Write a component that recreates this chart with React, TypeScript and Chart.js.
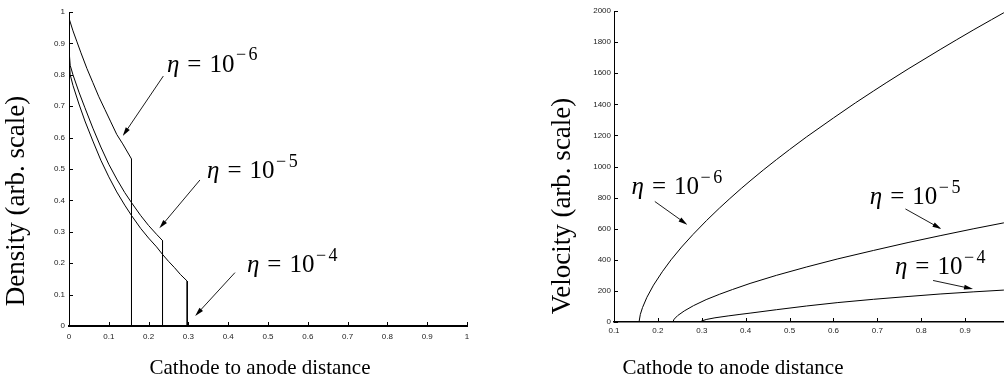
import { useEffect, useRef } from 'react';
import { Chart, registerables } from 'chart.js';

Chart.register(...registerables);

const SERIF = '"Liberation Serif", "Times New Roman", serif';
const SANS = '"Liberation Sans", Arial, sans-serif';

// ---------------- Density (left panel) ----------------
const densityXTickLabels = ['0', '0.1', '0.2', '0.3', '0.4', '0.5', '0.6', '0.7', '0.8', '0.9', '1'];
const densityYTickLabels = ['0', '0.1', '0.2', '0.3', '0.4', '0.5', '0.6', '0.7', '0.8', '0.9', '1'];

const densityEta6X = [0, 0.01, 0.02, 0.03, 0.045, 0.06, 0.075, 0.09, 0.105, 0.12, 0.135, 0.157, 0.157, 1];
const densityEta6Y = [0.98, 0.94, 0.905, 0.87, 0.82, 0.775, 0.73, 0.69, 0.65, 0.61, 0.58, 0.532, 0, 0];

const densityEta5X = [0, 0.003, 0.01, 0.025, 0.04, 0.06, 0.08, 0.1, 0.12, 0.14, 0.157, 0.18, 0.2, 0.22, 0.235, 0.235, 1];
const densityEta5Y = [0.88, 0.83, 0.8, 0.745, 0.695, 0.63, 0.57, 0.515, 0.468, 0.425, 0.393, 0.352, 0.32, 0.292, 0.272, 0, 0];

const densityEta4X = [0, 0.003, 0.01, 0.025, 0.04, 0.06, 0.08, 0.1, 0.12, 0.14, 0.157, 0.18, 0.2, 0.22, 0.235, 0.25, 0.265, 0.28, 0.297, 0.297, 1];
const densityEta4Y = [0.86, 0.8, 0.766, 0.707, 0.653, 0.589, 0.528, 0.475, 0.427, 0.385, 0.352, 0.311, 0.28, 0.252, 0.228, 0.206, 0.186, 0.164, 0.143, 0, 0];

// ---------------- Velocity (right panel) ----------------
const velocityXTickLabels = ['0.1', '0.2', '0.3', '0.4', '0.5', '0.6', '0.7', '0.8', '0.9', '1'];
const velocityYTickLabels = ['0', '200', '400', '600', '800', '1000', '1200', '1400', '1600', '1800', '2000'];

const velocityEta6X = [0.157, 0.16, 0.165, 0.175, 0.19, 0.21, 0.23, 0.254, 0.28, 0.311, 0.34, 0.364, 0.39, 0.41, 0.44, 0.47, 0.5, 0.539, 0.6, 0.65, 0.691, 0.72, 0.77, 0.843, 0.88, 0.92, 0.96, 0.987, 1.0];
const velocityEta6Y = [0, 49, 93, 159, 237, 323, 400, 482, 563, 653, 732, 794, 859, 907, 977, 1044, 1109, 1191, 1312, 1409, 1485, 1538, 1627, 1752, 1814, 1880, 1944, 1987, 2007];

const velocityEta5X = [0.234, 0.237, 0.245, 0.26, 0.281, 0.31, 0.341, 0.37, 0.41, 0.47, 0.539, 0.61, 0.691, 0.77, 0.843, 0.92, 0.987, 1.0];
const velocityEta5Y = [0, 18, 41, 71, 105, 144, 179, 209, 248, 300, 354, 406, 460, 511, 555, 600, 637, 644];

const velocityEta4X = [0.297, 0.3, 0.31, 0.33, 0.36, 0.387, 0.41, 0.47, 0.539, 0.61, 0.691, 0.77, 0.843, 0.92, 0.987, 1.0];
const velocityEta4Y = [0, 7, 16, 27, 39, 49, 57, 79, 103, 125, 146, 164, 180, 194, 205, 207];

// ---------------- annotations (data coordinates) ----------------
type Note = { exp: string; at: [number, number]; from: [number, number]; tip: [number, number] };
type Title = { text: string; x: number; y: number; rotate: boolean; size: number };

const densityNotes: Note[] = [
  { exp: '6', at: [0.246, 0.836], from: [0.237, 0.796], tip: [0.135, 0.605] },
  { exp: '5', at: [0.347, 0.497], from: [0.329, 0.465], tip: [0.227, 0.311] },
  { exp: '4', at: [0.447, 0.199], from: [0.417, 0.17], tip: [0.317, 0.032] },
];
const velocityNotes: Note[] = [
  { exp: '6', at: [0.14, 873], from: [0.193, 775], tip: [0.267, 626] },
  { exp: '5', at: [0.683, 809], from: [0.764, 727], tip: [0.846, 598] },
  { exp: '4', at: [0.74, 359], from: [0.827, 267], tip: [0.918, 212] },
];

const densityTitles: Title[] = [
  { text: 'Density (arb. scale)', x: 17, y: 201, rotate: true, size: 27 },
  { text: 'Cathode to anode distance', x: 260, y: 368, rotate: false, size: 21 },
];
const velocityTitles: Title[] = [
  { text: 'Velocity (arb. scale)', x: 63, y: 206, rotate: true, size: 27 },
  { text: 'Cathode to anode distance', x: 233, y: 368, rotate: false, size: 21 },
];

function zip(xs: number[], ys: number[]) {
  return xs.map((x, i) => ({ x, y: ys[i] }));
}

function drawEta(ctx: CanvasRenderingContext2D, x: number, yc: number, exp: string, s: number) {
  const base = yc + s * 0.33;
  ctx.fillStyle = '#000';
  ctx.textAlign = 'left';
  ctx.textBaseline = 'alphabetic';
  ctx.font = `italic ${s}px ${SERIF}`;
  ctx.fillText('η', x, base);
  let cx = x + ctx.measureText('η').width + s * 0.32;
  ctx.font = `${s}px ${SERIF}`;
  ctx.fillText('=', cx, base);
  cx += ctx.measureText('=').width + s * 0.32;
  ctx.fillText('10', cx, base);
  cx += ctx.measureText('10').width + s * 0.06;
  const ss = s * 0.72;
  ctx.font = `${ss}px ${SERIF}`;
  ctx.fillText('−', cx, base - s * 0.45);
  cx += ctx.measureText('−').width + s * 0.1;
  ctx.fillText(exp, cx, base - s * 0.45);
}

function decorPlugin(notes: Note[], titles: Title[]) {
  return {
    id: 'decor',
    afterDraw(chart: any) {
      const { ctx, chartArea: a, scales } = chart;
      const xs = scales.x;
      const ys = scales.y;
      ctx.save();
      // inward tick marks
      ctx.strokeStyle = '#000';
      ctx.lineWidth = 1;
      ctx.beginPath();
      for (const t of xs.ticks) {
        const p = Math.round(xs.getPixelForValue(t.value)) + 0.5;
        ctx.moveTo(p, a.bottom);
        ctx.lineTo(p, a.bottom - 4);
      }
      for (const t of ys.ticks) {
        const p = Math.round(ys.getPixelForValue(t.value)) + 0.5;
        ctx.moveTo(a.left, p);
        ctx.lineTo(a.left + 4, p);
      }
      ctx.stroke();
      // arrows + eta labels
      for (const n of notes) {
        const x0 = xs.getPixelForValue(n.from[0]);
        const y0 = ys.getPixelForValue(n.from[1]);
        const x1 = xs.getPixelForValue(n.tip[0]);
        const y1 = ys.getPixelForValue(n.tip[1]);
        const ang = Math.atan2(y1 - y0, x1 - x0);
        const L = 9;
        const W = 2.4;
        ctx.beginPath();
        ctx.lineWidth = 0.9;
        ctx.moveTo(x0, y0);
        ctx.lineTo(x1 - (L - 2) * Math.cos(ang), y1 - (L - 2) * Math.sin(ang));
        ctx.stroke();
        ctx.beginPath();
        ctx.moveTo(x1, y1);
        ctx.lineTo(x1 - L * Math.cos(ang) + W * Math.sin(ang), y1 - L * Math.sin(ang) - W * Math.cos(ang));
        ctx.lineTo(x1 - L * Math.cos(ang) - W * Math.sin(ang), y1 - L * Math.sin(ang) + W * Math.cos(ang));
        ctx.closePath();
        ctx.fillStyle = '#000';
        ctx.fill();
        drawEta(ctx, xs.getPixelForValue(n.at[0]), ys.getPixelForValue(n.at[1]), n.exp, 25);
      }
      // axis titles
      for (const t of titles) {
        ctx.save();
        ctx.translate(t.x, t.y);
        if (t.rotate) ctx.rotate(-Math.PI / 2);
        ctx.font = `${t.size}px ${SERIF}`;
        ctx.fillStyle = '#000';
        ctx.textAlign = 'center';
        ctx.textBaseline = 'middle';
        ctx.fillText(t.text, 0, 0);
        ctx.restore();
      }
      ctx.restore();
    },
  };
}

function lineSet(data: { x: number; y: number }[]) {
  return {
    data,
    showLine: true,
    borderColor: '#000',
    borderWidth: 1,
    pointRadius: 0,
    tension: 0,
    fill: false,
  };
}

function axis(
  min: number,
  max: number,
  step: number,
  labels: string[],
  fit: (s: any) => void,
  padding: number,
  borderWidth: number,
) {
  return {
    type: 'linear' as const,
    min,
    max,
    afterFit: fit,
    grid: { display: false, drawTicks: false },
    border: { display: true, color: '#000', width: borderWidth },
    ticks: {
      stepSize: step,
      autoSkip: false,
      maxRotation: 0,
      padding,
      color: '#222',
      font: { family: SANS, size: 8 },
      callback: (_v: any, i: number) => labels[i],
    },
  };
}

function DensityChart() {
  const ref = useRef<HTMLCanvasElement>(null);
  useEffect(() => {
    const chart = new Chart(ref.current!, {
      type: 'scatter',
      data: {
        datasets: [
          lineSet(zip(densityEta6X, densityEta6Y)),
          lineSet(zip(densityEta5X, densityEta5Y)),
          lineSet(zip(densityEta4X, densityEta4Y)),
        ],
      },
      options: {
        responsive: false,
        animation: false,
        layout: { padding: { top: 12, right: 33, left: 0, bottom: 0 } },
        plugins: { legend: { display: false }, tooltip: { enabled: false } },
        scales: {
          x: axis(0, 1, 0.1, densityXTickLabels, (s: any) => { s.height = 61; }, 6, 2),
          y: axis(0, 1, 0.1, densityYTickLabels, (s: any) => { s.width = 69; }, 4, 1),
        },
      } as any,
      plugins: [decorPlugin(densityNotes, densityTitles)],
    });
    return () => chart.destroy();
  }, []);
  return (
    <canvas ref={ref} width={500} height={387} style={{ position: 'absolute', left: 0, top: 0 }} />
  );
}

function VelocityChart() {
  const ref = useRef<HTMLCanvasElement>(null);
  useEffect(() => {
    const chart = new Chart(ref.current!, {
      type: 'scatter',
      data: {
        datasets: [
          lineSet(zip(velocityEta6X, velocityEta6Y)),
          lineSet(zip(velocityEta5X, velocityEta5Y)),
          lineSet(zip(velocityEta4X, velocityEta4Y)),
        ],
      },
      options: {
        responsive: false,
        animation: false,
        layout: { padding: { top: 11, right: 11, left: 0, bottom: 0 } },
        plugins: { legend: { display: false }, tooltip: { enabled: false } },
        scales: {
          x: axis(0.1, 1, 0.1, velocityXTickLabels, (s: any) => { s.height = 65; }, 4, 1.5),
          y: axis(0, 2000, 200, velocityYTickLabels, (s: any) => { s.width = 114; }, 3, 1),
        },
      } as any,
      plugins: [decorPlugin(velocityNotes, velocityTitles)],
    });
    return () => chart.destroy();
  }, []);
  return (
    <canvas ref={ref} width={520} height={387} style={{ position: 'absolute', left: 500, top: 0 }} />
  );
}

export default function App() {
  return (
    <div
      style={{
        position: 'fixed',
        left: 0,
        top: 0,
        width: 1004,
        height: 387,
        overflow: 'hidden',
        background: '#fff',
      }}
    >
      <DensityChart />
      <VelocityChart />
    </div>
  );
}
